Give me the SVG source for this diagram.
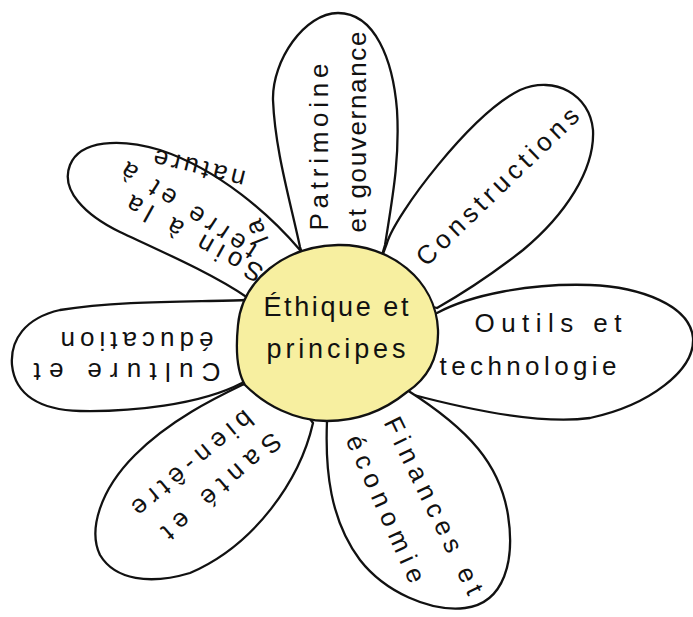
<svg xmlns="http://www.w3.org/2000/svg" width="693" height="617" viewBox="0 0 693 617">
<style>
.petal{fill:#fff;stroke:#111;stroke-width:2.3;stroke-linejoin:round;stroke-linecap:round}
.core{fill:#f7efa0;stroke:#111;stroke-width:2.3;stroke-linejoin:round}
.t{font-family:"Liberation Sans","DejaVu Sans",sans-serif;font-size:26px;fill:#111;text-anchor:middle}
.c{font-size:27px}
.p{font-family:"Liberation Sans","DejaVu Sans",sans-serif;font-size:26px;fill:#111;letter-spacing:4px}
</style>
<defs>
<path id="soinLine3" d="M269,240 L258,212 C252,196 250,180 249,172 L140,145"/>
</defs>
<rect width="693" height="617" fill="#fff"/>

<g id="petal-soin">
<path class="petal" d="M306,262 L300,250 C270,215 220,170 160,150 C120,138 80,140 70,165 C60,190 85,215 120,232 C165,253 215,275 248,298 L256,305 Z"/>
<text class="t" transform="translate(195,238) rotate(209)" y="8" textLength="152" lengthAdjust="spacing">Soin à la</text>
<text class="t" transform="translate(189,210) rotate(213)" y="8" textLength="156" lengthAdjust="spacing">terre et à</text>
<text class="p"><textPath href="#soinLine3" startOffset="0">la<tspan dx="34"> nature</tspan></textPath></text>
</g>

<g id="petal-patrimoine">
<path class="petal" d="M305,262 L300,247 C290,200 275,150 273,100 C272,60 305,13 338,13 C375,13 393,60 397,110 C400,160 392,200 385,245 L380,262 Z"/>
<text class="t" transform="translate(328,147) rotate(-90)" textLength="167" lengthAdjust="spacing">Patrimoine</text>
<text class="t" transform="translate(366,132) rotate(-90)" textLength="201" lengthAdjust="spacing">et gouvernance</text>
</g>

<g id="petal-constructions">
<path class="petal" d="M380,262 L387,243 C395,215 470,115 520,90 C555,75 590,95 593,130 C595,170 565,215 523,250 C495,272 465,292 437,308 L425,305 Z"/>
<text class="t" transform="translate(498,187) rotate(-44)" y="8" textLength="215" lengthAdjust="spacing">Constructions</text>
</g>

<g id="petal-outils">
<path class="petal" d="M425,318 L437,313 C470,295 530,283 590,285 C640,287 690,305 693,338 C695,370 650,405 590,418 C540,425 470,410 410,394 L400,385 L420,340 Z"/>
<text class="t" x="548" y="332" textLength="147" lengthAdjust="spacing">Outils et</text>
<text class="t" x="528" y="375" textLength="177" lengthAdjust="spacing">technologie</text>
</g>

<g id="petal-finances">
<path class="petal" d="M328,405 L327,421 C325,470 330,520 360,560 C385,592 430,612 465,608 C505,603 515,560 508,515 C500,465 470,430 407,390 L400,385 Z"/>
<text class="t" transform="translate(433,506) rotate(64)" y="8" textLength="194" lengthAdjust="spacing">Finances et</text>
<text class="t" transform="translate(385,509) rotate(66)" y="8" textLength="159" lengthAdjust="spacing">économie</text>
</g>

<g id="petal-sante">
<path class="petal" d="M300,405 L313,423 C300,480 255,545 190,573 C150,585 115,580 100,555 C88,530 100,490 135,455 C170,420 215,398 242,385 L260,380 Z"/>
<text class="t" transform="translate(221,486) rotate(139)" y="8" textLength="149" lengthAdjust="spacing">Santé et</text>
<text class="t" transform="translate(192,463) rotate(140)" y="8" textLength="150" lengthAdjust="spacing">bien-être</text>
</g>

<g id="petal-culture">
<path class="petal" d="M260,310 L245,300 C200,302 120,300 60,310 C25,318 10,340 12,365 C15,395 40,410 80,411 C130,412 200,405 242,383 L255,370 Z"/>
<text class="t" transform="translate(127,371) rotate(180)" y="8" textLength="187" lengthAdjust="spacing">Culture et</text>
<text class="t" transform="translate(137,340) rotate(180)" y="8" textLength="153" lengthAdjust="spacing">éducation</text>
</g>

<g id="center">
<path class="core" d="M338,245 C390,244 436,280 438,330 C439,360 425,380 407,392 C385,410 360,421 327,421 C295,421 265,405 245,385 C236,370 236,345 238,325 C242,280 285,246 338,245 Z"/>
<text class="t c" x="336" y="316" textLength="145" lengthAdjust="spacing">Éthique et</text>
<text class="t c" x="336" y="358" textLength="139" lengthAdjust="spacing">principes</text>
</g>

<g id="connectors"></g>
</svg>
